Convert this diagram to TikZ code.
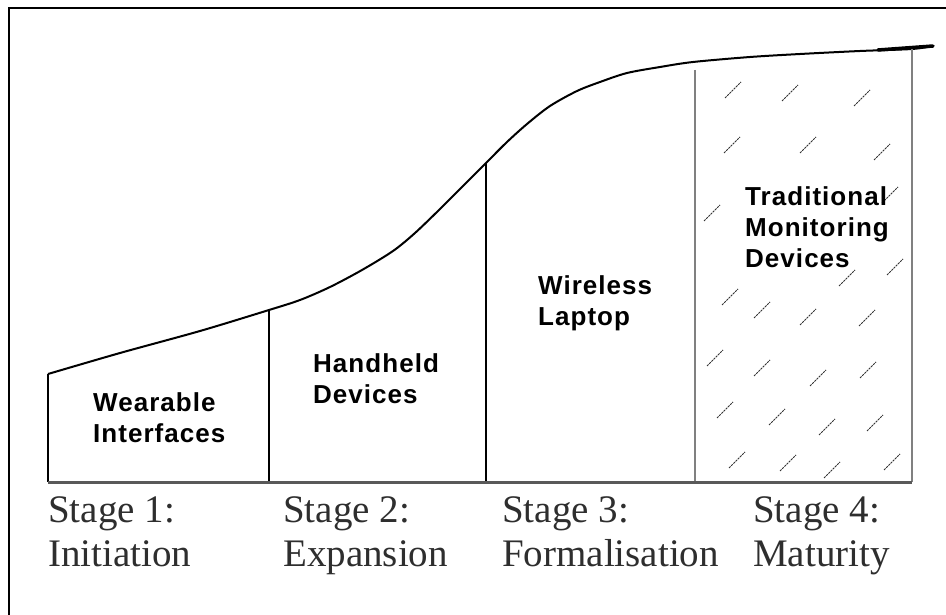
\documentclass[tikz,border=0pt]{standalone}
\usepackage{fontspec}
\setmainfont{Liberation Serif}
\newfontfamily\lblfont[LetterSpace=4]{Liberation Sans}
\tikzset{
  frame/.style={line width=2.2pt, black},
  curveline/.style={line width=2pt, black},
  divblack/.style={line width=2pt, black},
  divgray/.style={line width=2.6pt, black!50},
  baseline/.style={line width=3pt, black!65},
  hatchmark/.style={line width=1pt, black!80, dash pattern=on 2.2pt off 0.9pt},
  boxlabel/.style={inner sep=0pt, anchor=base west, align=left,
     font=\lblfont\bfseries\fontsize{26}{31}\selectfont},
  stagelabel/.style={inner sep=0pt, anchor=base west, align=left, text=black!82,
     font=\fontsize{39}{44}\selectfont}
}
\begin{document}
\begin{tikzpicture}[x=1pt,y=-1pt]
\useasboundingbox (0,0) rectangle (946,615);
% outer frame (top and left edges visible)
\draw[frame] (9.3,620) -- (9.3,7.8) -- (950,7.8);
% named points
\coordinate (b0) at (48,482);
\coordinate (b1) at (269,482);
\coordinate (b2) at (486,482);
\coordinate (b3) at (695,482);
\coordinate (b4) at (912,482);
\coordinate (t0) at (48,374);
\coordinate (t1) at (269,310);
\coordinate (t2) at (486,163);
\coordinate (t3) at (695,70);
\coordinate (t4) at (912,49);
% S-curve
\draw[curveline] plot[smooth, tension=0.5] coordinates {(48,374) (120,353) (200,331) (269,310) (300,300) (330,287) (362,270) (393,251) (415,233) (440,209) (462,187) (486,163) (507,142) (527,124) (550,106) (577,91) (600,82) (627,73) (660,67) (693,62) (750,57) (800,54) (860,51) (912,49) (933,46)};
\draw[line width=3.5pt, line cap=round] (878,50) -- (933,46);
% dividers
\draw[divblack] (t0) -- (b0);
\draw[divblack] (t1) -- (b1);
\draw[divblack] (t2) -- (b2);
\draw[divgray] (t3) -- (b3);
\draw[divgray] (t4) -- (b4);
\draw[baseline] (b0) -- (b4);
% hatch marks
\foreach \cx/\cy in {733/90,790/93,862/98,732/145,808/145,882/152,712/213,890/195,
  895/267,847/278,730/297,762/310,808/317,867/318,715/358,762/368,818/378,868/370,
  725/410,777/417,827/427,875/423,737/460,788/463,832/470,892/462}
  \draw[hatchmark] ({\cx-8},{\cy+8}) -- ({\cx+8},{\cy-8});
% box labels (anchored at the baseline of the last line)
\node[boxlabel] (wear) at (93,442) {Wearable\\Interfaces};
\node[boxlabel] (hand) at (313,403) {Handheld\\Devices};
\node[boxlabel] (wire) at (538,325) {Wireless\\Laptop};
\node[boxlabel] (trad) at (745,267) {Traditional\\Monitoring\\Devices};
% stage labels
\node[stagelabel] (s1) at (48,566) {Stage 1:\\Initiation};
\node[stagelabel] (s2) at (283,566) {Stage 2:\\Expansion};
\node[stagelabel] (s3) at (502,566) {Stage 3:\\Formalisation};
\node[stagelabel] (s4) at (753,566) {Stage 4:\\Maturity};
\end{tikzpicture}
\end{document}
